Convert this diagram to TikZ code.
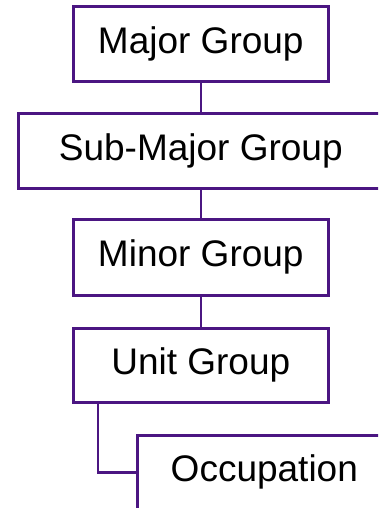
\documentclass[tikz,border=0pt]{standalone}
\usepackage{fontspec}
\setmainfont{Liberation Sans}
\definecolor{boxpurple}{RGB}{75,22,130}
\tikzset{
  level/.style={draw=boxpurple, line width=2.6pt, fill=white, minimum width=255pt,
    minimum height=75pt, inner sep=0pt, anchor=north west,
    font=\fontsize{37}{44}\selectfont},
  link/.style={draw=boxpurple, line width=2.6pt}
}
\begin{document}
\begin{tikzpicture}[x=1pt, y=-1pt]
  \useasboundingbox (0,0) rectangle (378,508);
  \clip (0,0) rectangle (378,508);
  \fill[white] (0,0) rectangle (378,508);
  % hierarchy boxes
  \node[level] (major) at (72,5) {Major Group};
  \node[level, minimum width=365pt] (sub) at (17,112) {Sub-Major Group};
  \node[level, minimum height=76pt] (minor) at (72,218) {Minor Group};
  \node[level, minimum height=74pt] (unit) at (72,327) {Unit Group};
  \node[level, minimum width=254pt, minimum height=74pt] (occ) at (136,434) {Occupation};
  % connectors
  \draw[link] (major.south) -- (sub.north);
  \draw[link] (sub.south) -- (minor.north);
  \draw[link] (minor.south) -- (unit.north);
  \draw[link] ([xshift=26pt]unit.south west) |- (occ.west);
\end{tikzpicture}
\end{document}
